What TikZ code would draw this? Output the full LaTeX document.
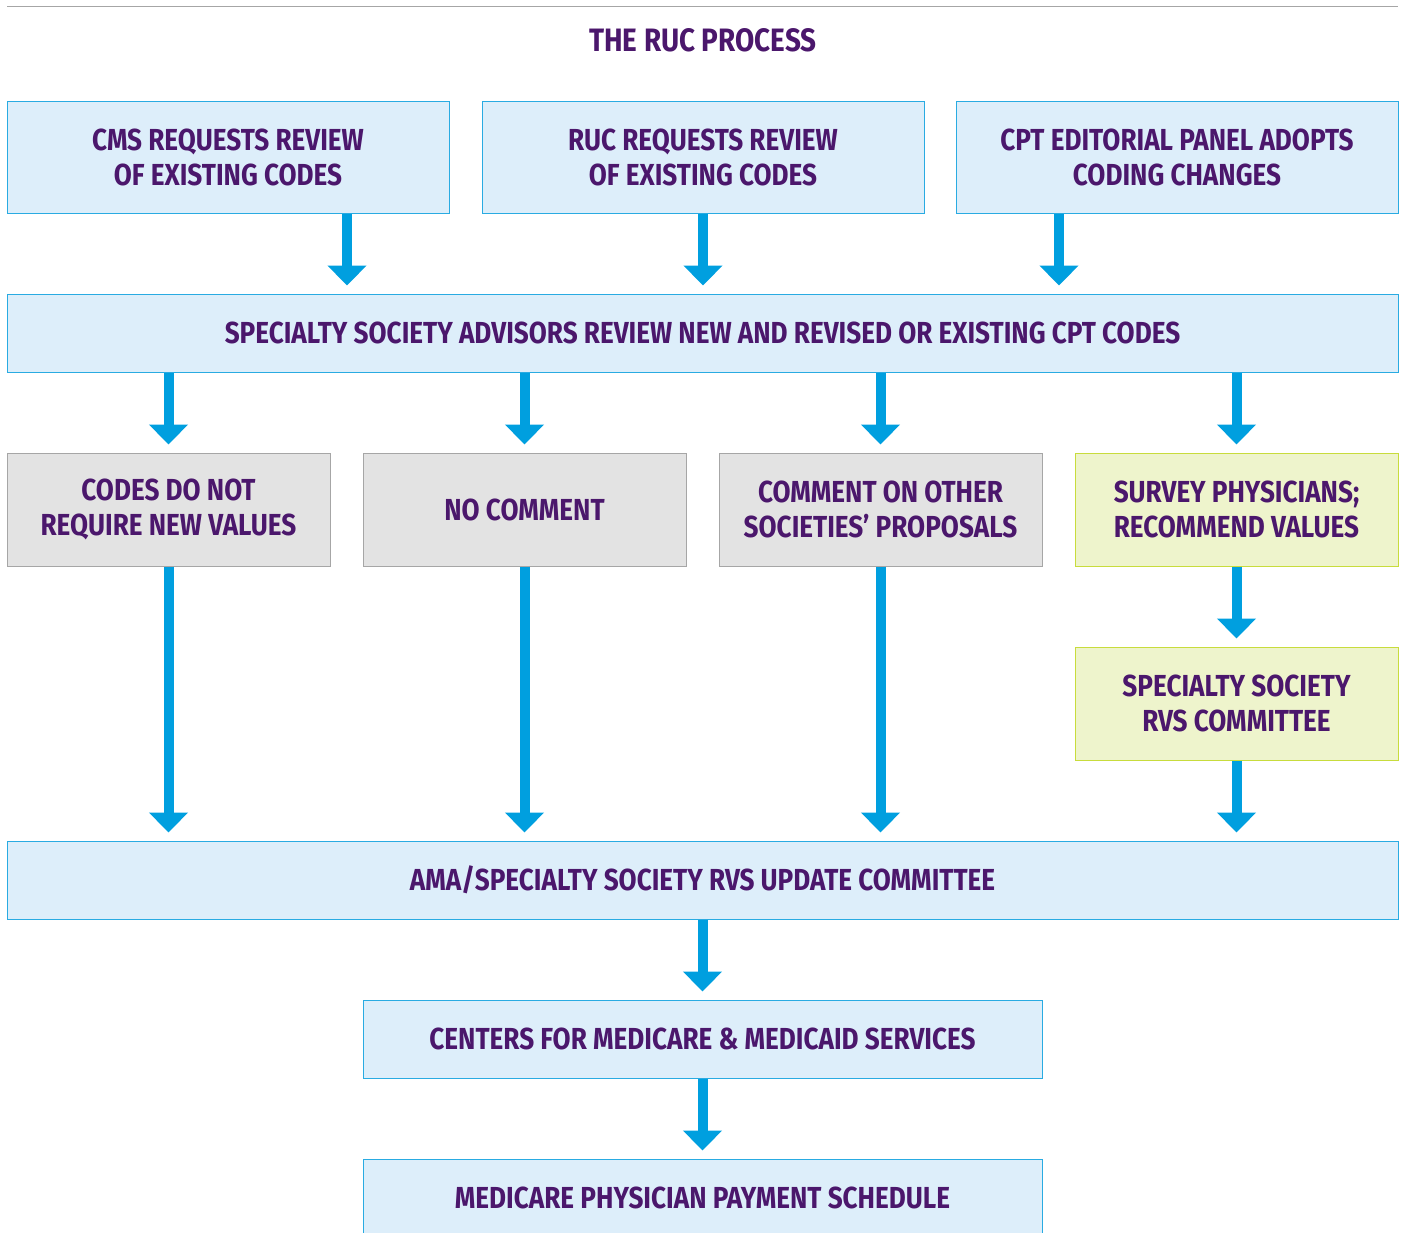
\documentclass[tikz,border=0pt]{standalone}
\usepackage{fontspec}
\setmainfont{Fira Sans}[FakeStretch=0.86]
\usetikzlibrary{arrows.meta}

\definecolor{rucpurple}{HTML}{4B176C}
\definecolor{boxblue}{HTML}{DDEEFA}
\definecolor{lineblue}{HTML}{29ABE2}
\definecolor{arrowblue}{HTML}{009FDF}
\definecolor{boxgray}{HTML}{E3E3E3}
\definecolor{linegray}{HTML}{A6A6A6}
\definecolor{boxgreen}{HTML}{EEF4CC}
\definecolor{linegreen}{HTML}{C8DC3C}

\tikzset{
  stage/.style={draw=lineblue, fill=boxblue, line width=0.5pt, inner sep=0pt,
    align=center, text=rucpurple, font=\bfseries\fontsize{15.2}{17.5}\selectfont},
  wide/.style={stage, minimum width=695.5pt, minimum height=39pt},
  top/.style={stage, minimum width=221pt, minimum height=56pt},
  small/.style={stage, minimum width=161.5pt, minimum height=56.5pt},
  narrow/.style={stage, minimum width=339.5pt, minimum height=39pt},
  grey/.style={draw=linegray, fill=boxgray},
  green/.style={draw=linegreen, fill=boxgreen},
  flow/.style={draw=arrowblue, line width=5pt, shorten >=4pt,
    -{Triangle[width=19pt,length=10pt]}}
}

\begin{document}
\begin{tikzpicture}[x=0.5pt,y=-0.5pt]
\useasboundingbox (0,0) rectangle (1403,1232);

\draw[linegray, line width=0.5pt] (7,6) -- (1398,6);
\node[text=rucpurple, font=\bfseries\fontsize{16.2}{20}\selectfont] (title) at (703,40) {THE RUC PROCESS};

% first row
\node[top] (cmsreq) at (228,157) {CMS REQUESTS REVIEW\\OF EXISTING CODES};
\node[top] (rucreq) at (703,157) {RUC REQUESTS REVIEW\\OF EXISTING CODES};
\node[top] (cpt) at (1177,157) {CPT EDITORIAL PANEL ADOPTS\\CODING CHANGES};

\node[wide] (adv) at (702.5,333) {SPECIALTY SOCIETY ADVISORS REVIEW NEW AND REVISED OR EXISTING CPT CODES};
\coordinate (t1) at (347,294);
\coordinate (t3) at (1059,294);

% second row
\node[small, grey] (novalue) at (168.5,509.5) {CODES DO NOT\\REQUIRE NEW VALUES};
\node[small, grey] (nocomment) at (524.5,509.5) {NO COMMENT};
\node[small, grey] (comment) at (880.5,509.5) {COMMENT ON OTHER\\SOCIETIES’ PROPOSALS};
\node[small, green] (survey) at (1236.5,509.5) {SURVEY PHYSICIANS;\\RECOMMEND VALUES};
\node[small, green] (rvs) at (1236.5,703.5) {SPECIALTY SOCIETY\\RVS COMMITTEE};

\node[wide] (ama) at (702.5,880) {AMA/SPECIALTY SOCIETY RVS UPDATE COMMITTEE};
\node[narrow] (cms) at (702.5,1039) {CENTERS FOR MEDICARE \& MEDICAID SERVICES};
\node[narrow] (mpps) at (702.5,1198) {MEDICARE PHYSICIAN PAYMENT SCHEDULE};

\draw[flow] (cmsreq.south -| t1) -- (adv.north -| t1);
\draw[flow] (rucreq.south) -- (adv.north -| rucreq.south);
\draw[flow] (cpt.south -| t3) -- (adv.north -| t3);

\draw[flow] (adv.south -| novalue.north) -- (novalue.north);
\draw[flow] (adv.south -| nocomment.north) -- (nocomment.north);
\draw[flow] (adv.south -| comment.north) -- (comment.north);
\draw[flow] (adv.south -| survey.north) -- (survey.north);

\draw[flow] (novalue.south) -- (ama.north -| novalue.south);
\draw[flow] (nocomment.south) -- (ama.north -| nocomment.south);
\draw[flow] (comment.south) -- (ama.north -| comment.south);
\draw[flow] (survey.south) -- (rvs.north);
\draw[flow] (rvs.south) -- (ama.north -| rvs.south);

\draw[flow] (ama.south) -- (cms.north);
\draw[flow] (cms.south) -- (mpps.north);

\end{tikzpicture}
\end{document}
